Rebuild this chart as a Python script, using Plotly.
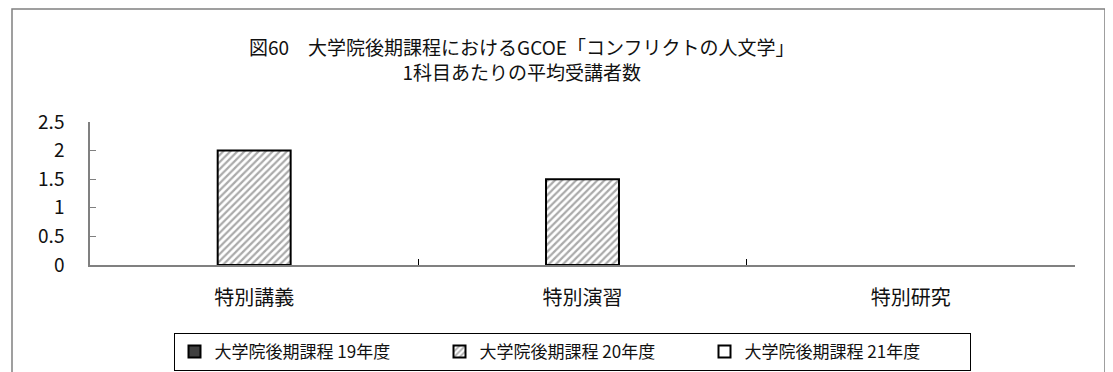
import plotly.graph_objects as go

CATEGORIES = ['特別講義', '特別演習', '特別研究']
SERIES_NAMES = ['大学院後期課程 19年度', '大学院後期課程 20年度', '大学院後期課程 21年度']
VALUES_19 = [None, None, None]
VALUES_20 = [2, 1.5, None]
VALUES_21 = [None, None, None]
Y_TICKS = [0, 0.5, 1, 1.5, 2, 2.5]

TITLE = '図60\u3000大学院後期課程におけるGCOE「コンフリクトの人文学」<br>1科目あたりの平均受講者数'

FONT = 'Noto Sans CJK JP, Noto Sans, sans-serif'
AXIS_COLOUR = '#808080'
OUTLINE = '#000000'

# the page body adds an 8px margin, so the figure is drawn 8px smaller and
# every reference pixel position is shifted by it
OFF = 8
W, H = 1113 - OFF, 372 - OFF
L, R, T, B = 90 - OFF, 1075 - OFF, 122 - OFF, 265 - OFF

fig = go.Figure()
fig.add_trace(go.Bar(x=CATEGORIES, y=VALUES_19, name=SERIES_NAMES[0],
                     marker={'color': '#404040', 'line': {'color': OUTLINE, 'width': 2}}))
fig.add_trace(go.Bar(x=CATEGORIES, y=VALUES_20, name=SERIES_NAMES[1],
                     marker={'color': 'white', 'line': {'color': OUTLINE, 'width': 2},
                             'pattern': {'shape': '/', 'fgcolor': '#555555', 'bgcolor': 'white',
                                         'size': 5, 'solidity': 0.45}}))
fig.add_trace(go.Bar(x=CATEGORIES, y=VALUES_21, name=SERIES_NAMES[2],
                     marker={'color': 'white', 'line': {'color': OUTLINE, 'width': 2}}))


def px_x(p):
    # reference pixel -> paper fraction
    return (p - OFF - L) / (R - L)


def px_y(p):
    return (B - (p - OFF)) / (B - T)


# outer chart frame
fig.add_shape(type='rect', xref='paper', yref='paper',
              x0=px_x(12), x1=px_x(1105), y0=px_y(400), y1=px_y(9),
              line={'color': '#808080', 'width': 1.5}, layer='below')

# title
fig.add_annotation(text=TITLE, xref='paper', yref='paper', x=px_x(521), y=px_y(59),
                   xanchor='center', yanchor='middle', showarrow=False, align='center',
                   font={'family': FONT, 'size': 19, 'color': '#111111'})

fig.update_layout(
    width=W, height=H,
    margin={'l': L, 'r': W - R, 't': T, 'b': H - B, 'autoexpand': False},
    paper_bgcolor='white', plot_bgcolor='white',
    font={'family': FONT, 'size': 16, 'color': '#111111'},
    barmode='group', bargap=1.5 / 4.5, bargroupgap=0,
    legend={'orientation': 'h', 'x': px_x(572), 'xanchor': 'center',
            'y': px_y(333), 'yanchor': 'top', 'bordercolor': '#000000', 'borderwidth': 1,
            'font': {'family': FONT, 'size': 17}, 'traceorder': 'normal',
            'entrywidth': 220, 'entrywidthmode': 'pixels', 'itemwidth': 30,
            'tracegroupgap': 0},
)
fig.update_xaxes(showline=True, linecolor=AXIS_COLOUR, linewidth=1.5, showgrid=False,
                 ticks='inside', tickson='boundaries', ticklen=6, tickcolor='#000000',
                 tickfont={'size': 20}, ticklabelstandoff=14, fixedrange=True)
fig.update_yaxes(range=[0, 2.5], tickvals=Y_TICKS, ticktext=[str(v) for v in Y_TICKS],
                 showline=True, linecolor=AXIS_COLOUR, linewidth=1.5, showgrid=False,
                 zeroline=False, ticks='inside', ticklen=6, tickcolor=AXIS_COLOUR,
                 tickfont={'size': 19}, ticklabelstandoff=20, fixedrange=True)

fig.write_html('out.html')
